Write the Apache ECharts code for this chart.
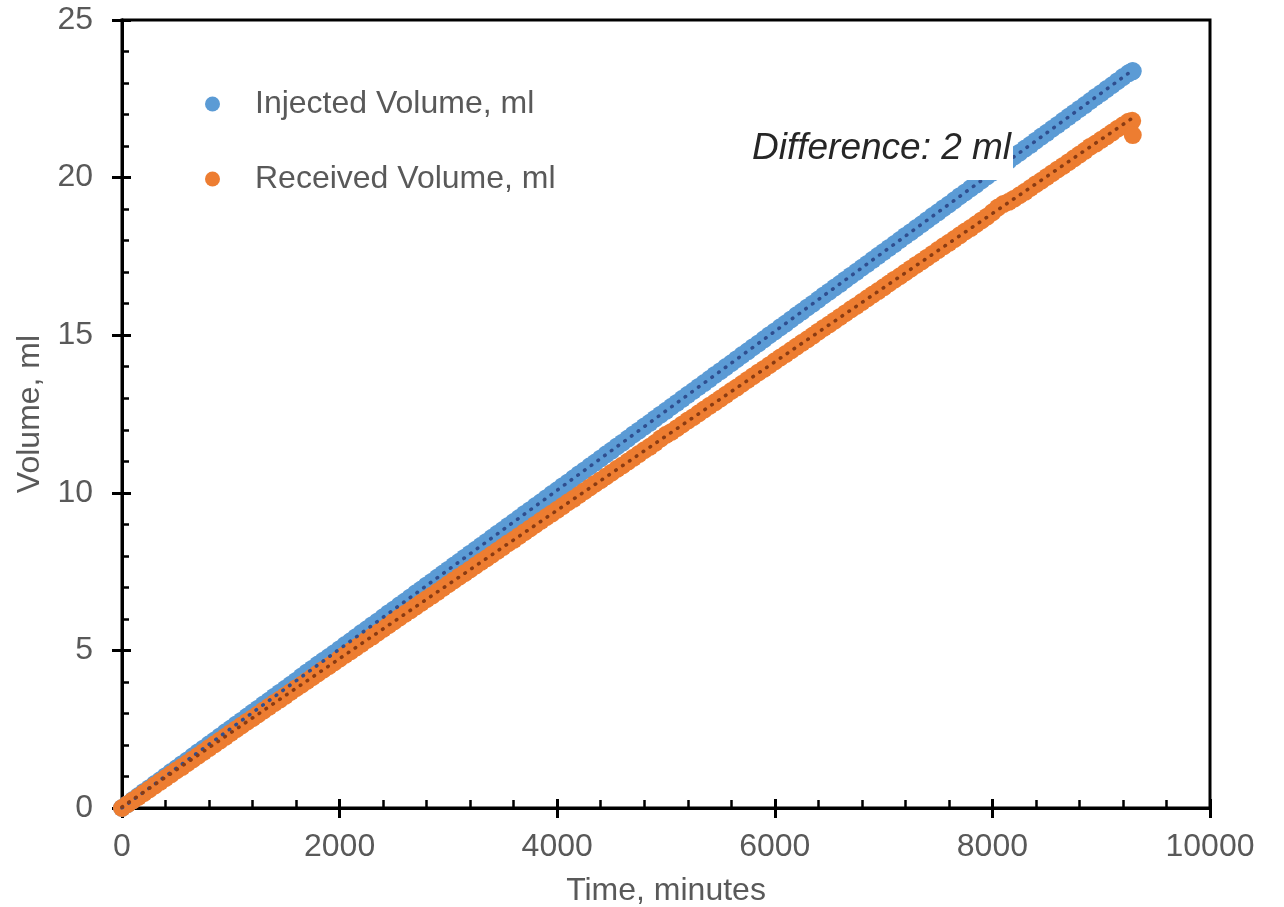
<!DOCTYPE html>
<html>
<head>
<meta charset="utf-8">
<style>
  html, body { margin: 0; padding: 0; background: #fff; }
  #chart { width: 1284px; height: 907px; }
</style>
<script src="https://cdn.jsdelivr.net/npm/echarts@6/dist/echarts.min.js"></script>
</head>
<body>
<div id="chart"></div>
<script>
// time, minutes
const times = [
  0, 50, 100, 150, 200, 250, 300, 350, 400, 450,
  500, 550, 600, 650, 700, 750, 800, 850, 900, 950,
  1000, 1050, 1100, 1150, 1200, 1250, 1300, 1350, 1400, 1450,
  1500, 1550, 1600, 1650, 1700, 1750, 1800, 1850, 1900, 1950,
  2000, 2050, 2100, 2150, 2200, 2250, 2300, 2350, 2400, 2450,
  2500, 2550, 2600, 2650, 2700, 2750, 2800, 2850, 2900, 2950,
  3000, 3050, 3100, 3150, 3200, 3250, 3300, 3350, 3400, 3450,
  3500, 3550, 3600, 3650, 3700, 3750, 3800, 3850, 3900, 3950,
  4000, 4050, 4100, 4150, 4200, 4250, 4300, 4350, 4400, 4450,
  4500, 4550, 4600, 4650, 4700, 4750, 4800, 4850, 4900, 4950,
  5000, 5050, 5100, 5150, 5200, 5250, 5300, 5350, 5400, 5450,
  5500, 5550, 5600, 5650, 5700, 5750, 5800, 5850, 5900, 5950,
  6000, 6050, 6100, 6150, 6200, 6250, 6300, 6350, 6400, 6450,
  6500, 6550, 6600, 6650, 6700, 6750, 6800, 6850, 6900, 6950,
  7000, 7050, 7100, 7150, 7200, 7250, 7300, 7350, 7400, 7450,
  7500, 7550, 7600, 7650, 7700, 7750, 7800, 7850, 7900, 7950,
  8000, 8050, 8100, 8150, 8200, 8250, 8300, 8350, 8400, 8450,
  8500, 8550, 8600, 8650, 8700, 8750, 8800, 8850, 8900, 8950,
  9000, 9050, 9100, 9150, 9200, 9250, 9285, 9290
];

// Injected Volume, ml
const injected = [
  0.00, 0.12, 0.25, 0.38, 0.51, 0.63, 0.76, 0.88, 1.01, 1.14,
  1.26, 1.39, 1.51, 1.64, 1.77, 1.89, 2.02, 2.14, 2.27, 2.40,
  2.52, 2.65, 2.77, 2.90, 3.03, 3.15, 3.28, 3.40, 3.53, 3.66,
  3.78, 3.91, 4.03, 4.17, 4.30, 4.42, 4.55, 4.67, 4.79, 4.91,
  5.04, 5.17, 5.29, 5.42, 5.55, 5.67, 5.80, 5.92, 6.05, 6.18,
  6.30, 6.43, 6.55, 6.68, 6.81, 6.93, 7.06, 7.18, 7.31, 7.44,
  7.56, 7.69, 7.81, 7.94, 8.07, 8.19, 8.32, 8.44, 8.57, 8.70,
  8.82, 8.95, 9.07, 9.20, 9.33, 9.45, 9.58, 9.70, 9.83, 9.96,
  10.08, 10.21, 10.33, 10.46, 10.59, 10.71, 10.84, 10.96, 11.09, 11.22,
  11.34, 11.47, 11.59, 11.72, 11.85, 11.97, 12.10, 12.22, 12.35, 12.48,
  12.60, 12.73, 12.85, 12.98, 13.11, 13.23, 13.36, 13.48, 13.61, 13.74,
  13.86, 13.99, 14.11, 14.24, 14.37, 14.49, 14.62, 14.74, 14.87, 15.00,
  15.12, 15.25, 15.37, 15.50, 15.63, 15.75, 15.88, 16.00, 16.13, 16.26,
  16.38, 16.51, 16.63, 16.76, 16.89, 17.01, 17.14, 17.26, 17.39, 17.52,
  17.64, 17.77, 17.89, 18.02, 18.15, 18.27, 18.40, 18.52, 18.65, 18.78,
  18.90, 19.03, 19.15, 19.28, 19.41, 19.53, 19.66, 19.78, 19.91, 20.04,
  20.16, 20.29, 20.41, 20.54, 20.67, 20.79, 20.92, 21.04, 21.17, 21.30,
  21.42, 21.55, 21.67, 21.80, 21.93, 22.05, 22.18, 22.30, 22.43, 22.56,
  22.68, 22.81, 22.93, 23.06, 23.19, 23.31, 23.37, 23.38
];

// Received Volume, ml
const received = [
  0.00, 0.12, 0.24, 0.35, 0.47, 0.59, 0.71, 0.83, 0.95, 1.07,
  1.19, 1.30, 1.42, 1.54, 1.66, 1.78, 1.90, 2.02, 2.14, 2.26,
  2.38, 2.50, 2.62, 2.74, 2.85, 2.97, 3.09, 3.21, 3.33, 3.44,
  3.56, 3.68, 3.80, 3.91, 4.03, 4.15, 4.27, 4.39, 4.50, 4.62,
  4.74, 4.86, 4.97, 5.09, 5.21, 5.33, 5.44, 5.56, 5.68, 5.80,
  5.92, 6.04, 6.16, 6.27, 6.39, 6.51, 6.63, 6.74, 6.86, 6.98,
  7.10, 7.22, 7.34, 7.45, 7.57, 7.69, 7.81, 7.92, 8.04, 8.16,
  8.28, 8.40, 8.51, 8.63, 8.75, 8.87, 8.99, 9.11, 9.23, 9.34,
  9.46, 9.58, 9.70, 9.81, 9.93, 10.05, 10.17, 10.29, 10.40, 10.52,
  10.64, 10.76, 10.87, 10.99, 11.11, 11.23, 11.35, 11.46, 11.58, 11.72,
  11.84, 11.93, 12.05, 12.17, 12.29, 12.40, 12.52, 12.64, 12.76, 12.87,
  12.99, 13.11, 13.23, 13.34, 13.46, 13.58, 13.70, 13.82, 13.93, 14.05,
  14.17, 14.29, 14.40, 14.52, 14.64, 14.76, 14.87, 14.99, 15.11, 15.23,
  15.34, 15.46, 15.58, 15.70, 15.82, 15.93, 16.05, 16.17, 16.29, 16.40,
  16.52, 16.64, 16.76, 16.87, 16.99, 17.11, 17.23, 17.34, 17.46, 17.58,
  17.70, 17.82, 17.93, 18.05, 18.17, 18.29, 18.40, 18.52, 18.64, 18.76,
  18.90, 19.05, 19.16, 19.23, 19.33, 19.44, 19.55, 19.67, 19.79, 19.90,
  20.02, 20.14, 20.26, 20.37, 20.49, 20.61, 20.73, 20.85, 20.98, 21.08,
  21.20, 21.31, 21.43, 21.55, 21.66, 21.77, 21.80, 21.35
];

const xTicks = { min: 0, max: 10000, interval: 2000 };
const yTicks = { min: 0, max: 25, interval: 5 };

const BLUE = '#5b9bd5';
const ORANGE = '#ed7d31';
const BLUE_TREND = '#2f4e8f';
const ORANGE_TREND = '#8a3b12';
const LABEL = '#595959';
const FONT = '"Liberation Sans", Arial, sans-serif';
const FS = 32;

function pairs(ys) {
  return times.map((t, i) => [t, ys[i]]);
}

// linear least-squares trendline over the data's x range
function trend(ys) {
  const n = times.length;
  let sx = 0, sy = 0, sxx = 0, sxy = 0;
  for (let i = 0; i < n; i++) {
    sx += times[i]; sy += ys[i];
    sxx += times[i] * times[i]; sxy += times[i] * ys[i];
  }
  const a = (n * sxy - sx * sy) / (n * sxx - sx * sx);
  const b = (sy - a * sx) / n;
  const t0 = Math.min(...times);
  const t1 = Math.max(...times);
  return [[t0, a * t0 + b], [t1, a * t1 + b]];
}

function trendSeries(ys, color) {
  return {
    type: 'line',
    data: trend(ys),
    showSymbol: false,
    symbol: 'none',
    silent: true,
    z: 5,
    lineStyle: { color, width: 3.6, type: [0.5, 7.8], cap: 'round' },
  };
}

const chart = echarts.init(document.getElementById('chart'));

const axisLine = { show: true, lineStyle: { color: '#000', width: 3 } };
const plain = (v) => String(v);

chart.setOption({
  animation: false,
  backgroundColor: '#fff',
  textStyle: { fontFamily: FONT },
  grid: {
    left: 122, right: 74, top: 20, bottom: 99,
    outerBoundsMode: 'none',
    containLabel: false,
    show: true, borderColor: '#000', borderWidth: 3, backgroundColor: 'transparent',
  },
  legend: {
    data: ['Injected Volume, ml', 'Received Volume, ml'],
    orient: 'vertical',
    left: 205,
    top: 88,
    padding: 0,
    itemGap: 43,
    itemWidth: 15,
    itemHeight: 15,
    icon: 'circle',
    textStyle: { color: LABEL, fontSize: FS, fontFamily: FONT, padding: [0, 0, 0, 30] },
    selectedMode: false,
  },
  xAxis: [
    {
      type: 'value',
      ...xTicks,
      position: 'bottom',
      name: 'Time, minutes',
      nameLocation: 'middle',
      nameGap: 67,
      nameTextStyle: { color: LABEL, fontSize: FS, fontFamily: FONT },
      axisLine,
      axisTick: { show: true, inside: false, length: 10, lineStyle: { color: '#000', width: 3 } },
      axisLabel: { color: LABEL, fontSize: FS, fontFamily: FONT, margin: 23, formatter: plain },
      splitLine: { show: false },
    },
    {
      type: 'value',
      ...xTicks,
      position: 'bottom',
      axisLine,
      axisTick: { show: true, inside: true, length: 9, lineStyle: { color: '#000', width: 3 } },
      minorTick: { show: true, splitNumber: 5, length: 8, lineStyle: { color: '#000', width: 2.5 } },
      axisLabel: { show: false },
      splitLine: { show: false },
    },
  ],
  yAxis: [
    {
      type: 'value',
      ...yTicks,
      position: 'left',
      name: 'Volume, ml',
      nameLocation: 'middle',
      nameGap: 75,
      nameTextStyle: { color: LABEL, fontSize: FS, fontFamily: FONT },
      axisLine,
      axisTick: { show: true, inside: false, length: 10, lineStyle: { color: '#000', width: 3 } },
      axisLabel: { color: LABEL, fontSize: FS, fontFamily: FONT, margin: 29, formatter: plain },
      splitLine: { show: false },
    },
    {
      type: 'value',
      ...yTicks,
      position: 'left',
      axisLine,
      axisTick: { show: true, inside: true, length: 9, lineStyle: { color: '#000', width: 3 } },
      minorTick: { show: true, splitNumber: 5, length: 7, lineStyle: { color: '#000', width: 2.5 } },
      axisLabel: { show: false },
      splitLine: { show: false },
    },
  ],
  series: [
    {
      name: 'Injected Volume, ml',
      type: 'scatter',
      data: pairs(injected),
      symbol: 'circle',
      symbolSize: 18,
      itemStyle: { color: BLUE, opacity: 1 },
      z: 2,
    },
    {
      name: 'Received Volume, ml',
      type: 'scatter',
      data: pairs(received),
      symbol: 'circle',
      symbolSize: 18,
      itemStyle: { color: ORANGE, opacity: 1 },
      z: 3,
    },
    trendSeries(injected, BLUE_TREND),
    trendSeries(received, ORANGE_TREND),
  ],
  graphic: [
    {
      type: 'rect',
      z: 100,
      shape: { x: 745, y: 120, width: 268, height: 60 },
      style: { fill: '#fff' },
      silent: true,
    },
    {
      type: 'text',
      z: 101,
      x: 752,
      y: 149,
      silent: true,
      style: {
        text: 'Difference: 2 ml',
        fill: '#262626',
        font: 'italic 37px "Liberation Sans", Arial, sans-serif',
        textVerticalAlign: 'middle',
        verticalAlign: 'middle',
      },
    },
  ],
});
</script>
</body>
</html>
